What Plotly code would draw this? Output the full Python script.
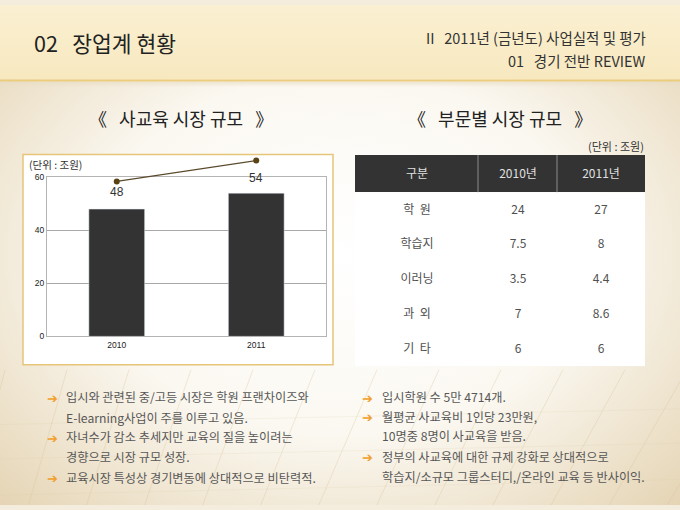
import base64

import plotly.graph_objects as go

W, H = 680, 510
FONT = "Noto Sans CJK KR"

# ---- data ----
years = ["2010", "2011"]
market_size = [48, 54]
y_ticks = [0, 20, 40, 60]

table_header = ["구분", "2010년", "2011년"]
segments = ["학  원", "학습지", "이러닝", "과  외", "기  타"]
seg_2010 = [24, 7.5, 3.5, 7, 6]
seg_2011 = [27, 8, 4.4, 8.6, 6]

left_notes = [
    (True, "입시와 관련된 중/고등 시장은 학원 프랜차이즈와"),
    (False, "E-learning사업이 주를 이루고 있음."),
    (True, "자녀수가 감소 추세지만 교육의 질을 높이려는"),
    (False, "경향으로 시장 규모 성장."),
    (True, "교육시장 특성상 경기변동에 상대적으로 비탄력적."),
]
right_notes = [
    (True, "입시학원 수 5만 4714개."),
    (True, "월평균 사교육비 1인당 23만원,"),
    (False, "10명중 8명이 사교육을 받음."),
    (True, "정부의 사교육에 대한 규제 강화로 상대적으로"),
    (False, "학습지/소규모 그룹스터디,/온라인 교육 등 반사이익."),
]

# ---- layout constants (pixels of the 680x510 slide) ----
COL_EDGES = [0, 123, 202, 290]          # table column boundaries
HEAD_EDGES = [0, 38]
ROW_EDGES = [38, 73.5, 109, 144.5, 180, 215.5]
LABEL_SHIFT = [-11, -17]                 # data label offsets for the line
NOTE_Y_LEFT = [400, 421, 441, 461, 482]
NOTE_Y_RIGHT = [400, 420, 440, 461, 481]


def px(x):
    return x / W


def py(y):
    return 1 - y / H


# background slide as an inline svg
lines = ""
for i in range(13):
    x0 = -30 + i * 58
    lines += (f'<line x1="{x0}" y1="512" x2="{x0 + 35 + i * 4}" y2="372" '
              f'stroke="#d9c49c" stroke-opacity="0.45" stroke-width="0.8"/>')
for yy in (420, 455, 492):
    lines += (f'<line x1="0" y1="{yy + 8}" x2="680" y2="{yy - 8}" '
              f'stroke="#dcc8a2" stroke-opacity="0.25" stroke-width="0.7"/>')
svg = f'''<svg xmlns="http://www.w3.org/2000/svg" width="{W}" height="{H}" viewBox="0 0 {W} {H}" preserveAspectRatio="none">
<defs>
<radialGradient id="bg" cx="50%" cy="50%" r="72%">
<stop offset="0" stop-color="#ffffff"/>
<stop offset="0.5" stop-color="#fbf8f1"/>
<stop offset="1" stop-color="#e4d3b2"/>
</radialGradient>
<linearGradient id="hd" x1="0" y1="0" x2="0" y2="1">
<stop offset="0" stop-color="#faf0d2"/>
<stop offset="1" stop-color="#f7e8bf"/>
</linearGradient>
<linearGradient id="sh" x1="0" y1="0" x2="0" y2="1">
<stop offset="0" stop-color="#e8dcc4" stop-opacity="0.7"/>
<stop offset="1" stop-color="#e8dcc4" stop-opacity="0"/>
</linearGradient>
</defs>
<rect width="{W}" height="{H}" fill="url(#bg)"/>
<rect width="{W}" height="76" fill="url(#hd)"/>
<rect y="78" width="{W}" height="6" fill="url(#sh)"/>
<rect y="76" width="{W}" height="2" fill="#eccd7c"/>
{lines}
</svg>'''
bg_src = "data:image/svg+xml;base64," + base64.b64encode(svg.encode("utf-8")).decode()

fig = go.Figure()

# bar chart
fig.add_trace(go.Bar(x=years, y=market_size, marker_color="#333333",
                     width=0.4, hoverinfo="skip", xaxis="x", yaxis="y"))
# line on its own hidden axes
fig.add_trace(go.Scatter(x=years, y=market_size, mode="lines+markers",
                         line=dict(color="#5b4a2c", width=1.3),
                         marker=dict(color="#5a4312", size=6),
                         hoverinfo="skip", xaxis="x2", yaxis="y2", cliponaxis=False))

# table via heatmaps
fig.add_trace(go.Heatmap(x=COL_EDGES, y=HEAD_EDGES, z=[[1, 1, 1]], text=[table_header],
                         texttemplate="%{text}", textfont=dict(color="#e0e0e0", size=12, family=FONT),
                         colorscale=[[0, "#333333"], [1, "#333333"]], showscale=False,
                         hoverinfo="skip", xaxis="x3", yaxis="y3"))
body_text = [[s, f"{a:g}", f"{b:g}"] for s, a, b in zip(segments, seg_2010, seg_2011)]
fig.add_trace(go.Heatmap(x=COL_EDGES, y=ROW_EDGES, z=[[0, 0, 0] for _ in segments], text=body_text,
                         texttemplate="%{text}", textfont=dict(color="#505050", size=12, family=FONT),
                         colorscale=[[0, "#ffffff"], [1, "#ffffff"]], showscale=False,
                         hoverinfo="skip", xaxis="x3", yaxis="y3"))

shapes = [
    dict(type="rect", xref="paper", yref="paper", x0=px(23), x1=px(333), y0=py(367), y1=py(152.5),
         fillcolor="white", line=dict(color="#e6c578", width=1.5), layer="below"),
]
for e in COL_EDGES[1:-1]:
    shapes.append(dict(type="line", xref="x3", yref="y3", x0=e, x1=e, y0=HEAD_EDGES[0], y1=HEAD_EDGES[1],
                       line=dict(color="#8c8c8c", width=1)))

ann = []


def text(x, y, s, size, color="#333333", xanchor="left"):
    ann.append(dict(xref="paper", yref="paper", x=px(x), y=py(y), text=s, showarrow=False,
                    xanchor=xanchor, yanchor="middle", font=dict(family=FONT, size=size, color=color)))


text(32, 38, "02   장업계 현황", 21.5, "#222222")
text(648, 33, "II   2011년 (금년도) 사업실적 및 평가", 14.5, "#333333", "right")
text(648, 57, "01   경기 전반 REVIEW", 14.5, "#333333", "right")
text(181, 115, "《   사교육 시장 규모   》", 18, "#222222", "center")
text(500, 115, "《   부문별 시장 규모   》", 18, "#222222", "center")
text(27, 163, "(단위 : 조원)", 10.5, "#333333")
text(646, 144, "(단위 : 조원)", 11, "#333333", "right")

for (bullet, s), y in zip(left_notes, NOTE_Y_LEFT):
    if bullet:
        text(52, y, "➔", 13, "#f2a02c", "center")
    text(64, y, s, 12.2, "#575757")
for (bullet, s), y in zip(right_notes, NOTE_Y_RIGHT):
    if bullet:
        text(367, y, "➔", 13, "#f2a02c", "center")
    text(380, y, s, 12.2, "#575757")

# data labels for the line (category index on x2)
for i, (v, sh) in enumerate(zip(market_size, LABEL_SHIFT)):
    ann.append(dict(xref="x2", yref="y2", x=i, y=v, text=str(v), showarrow=False, yshift=sh,
                    yanchor="middle", font=dict(family="Liberation Sans", size=12, color="#333333")))

fig.update_layout(
    width=W, height=H, margin=dict(l=0, r=0, t=0, b=0),
    paper_bgcolor="#f4ecdc", plot_bgcolor="rgba(0,0,0,0)",
    showlegend=False, bargap=0.6,
    images=[dict(source=bg_src, xref="paper", yref="paper", x=0, y=1, sizex=1, sizey=1,
                 xanchor="left", yanchor="top", sizing="stretch", layer="below")],
    shapes=shapes, annotations=ann,
    xaxis=dict(domain=[px(47), px(326)], type="category", showline=True, mirror=True,
               linecolor="#b4b4b4", tickfont=dict(family="Liberation Sans", size=8.5, color="#222222"),
               showgrid=False, fixedrange=True),
    yaxis=dict(domain=[py(338), py(175.7)], range=[0, 60], tickvals=y_ticks, showline=True, mirror=True,
               linecolor="#b4b4b4", gridcolor="#a8a8a8", zeroline=False,
               tickfont=dict(family="Liberation Sans", size=8.5, color="#222222"), fixedrange=True),
    xaxis2=dict(domain=[px(47), px(326)], type="category", range=[-0.5, 1.5],
                showticklabels=False, showgrid=False, zeroline=False, showline=False, anchor="y2"),
    yaxis2=dict(domain=[py(338), py(150)], range=[3.5, 56.45],
                showticklabels=False, showgrid=False, zeroline=False, showline=False, anchor="x2"),
    xaxis3=dict(domain=[px(355), px(645)], range=[COL_EDGES[0], COL_EDGES[-1]], visible=False,
                anchor="y3"),
    yaxis3=dict(domain=[py(368.5), py(153)], range=[ROW_EDGES[-1], HEAD_EDGES[0]], visible=False,
                anchor="x3"),
)

fig.write_html("out.html", config={"displayModeBar": False},
               post_script="document.body.style.margin='0';document.body.style.overflow='hidden';")
